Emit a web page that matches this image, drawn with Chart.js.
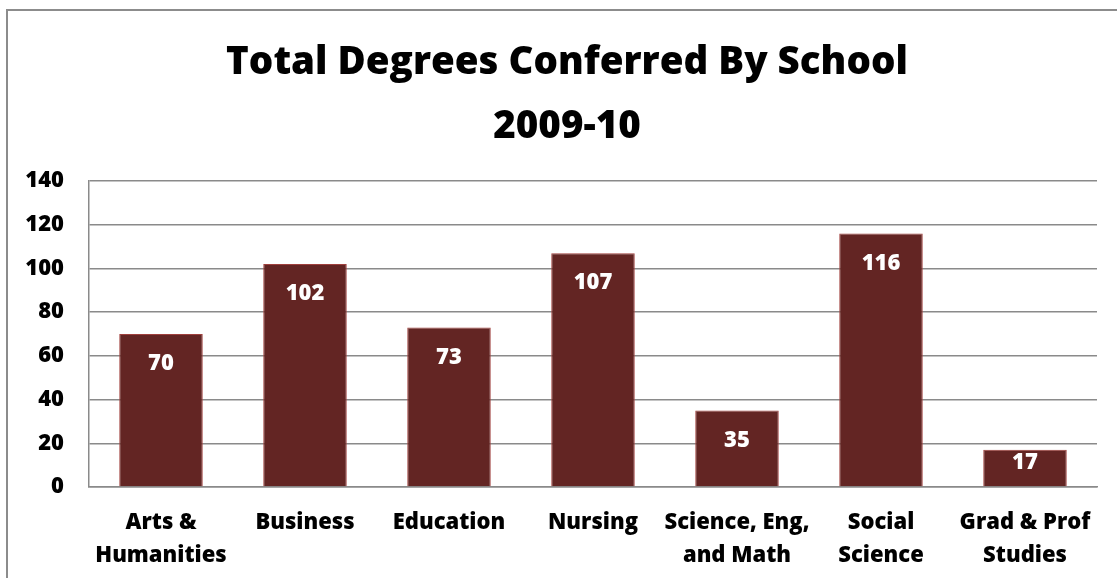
<!DOCTYPE html>
<html>
<head>
<meta charset="utf-8">
<script src="https://cdn.jsdelivr.net/npm/chart.js@4.4.0/dist/chart.umd.min.js"></script>
<style>
  html, body { margin: 0; padding: 0; background: #fff; overflow: hidden; }
  #frame { position: absolute; left: 6px; top: 9px; width: 1200px; height: 700px; border: 2px solid #8c8c8c; box-sizing: border-box; }
  #wrap { position: absolute; left: 0; top: 0; width: 1117px; height: 578px; }
</style>
</head>
<body>
<div id="frame"></div>
<div id="wrap"><canvas id="c" width="1117" height="578"></canvas></div>
<script>
const titleLines = ['Total Degrees Conferred By School', '2009-10'];
const categories = [['Arts &', 'Humanities'], ['Business'], ['Education'], ['Nursing'], ['Science, Eng,', 'and Math'], ['Social', 'Science'], ['Grad & Prof', 'Studies']];
const degrees = [70, 102, 73, 107, 35, 116, 17];
const yTicks = [0, 20, 40, 60, 80, 100, 120, 140];

const FONT = '"Open Sans", Lato, sans-serif';
const WEIGHT = 800;

const titleDraw = {
  id: 'titleDraw',
  afterDraw(chart) {
    const ctx = chart.ctx;
    ctx.save();
    ctx.fillStyle = '#000';
    ctx.font = WEIGHT + ' 38.5px ' + FONT;
    ctx.textAlign = 'center';
    ctx.textBaseline = 'middle';
    ctx.fillText(titleLines[0], 567, 63);
    ctx.fillText(titleLines[1], 567, 127);
    ctx.restore();
  }
};

const barLabels = {
  id: 'barLabels',
  afterDatasetsDraw(chart) {
    const ctx = chart.ctx;
    const meta = chart.getDatasetMeta(0);
    const yScale = chart.scales.y;
    ctx.save();
    ctx.fillStyle = '#ffffff';
    ctx.font = WEIGHT + ' 22px ' + FONT;
    ctx.textAlign = 'center';
    ctx.textBaseline = 'middle';
    meta.data.forEach((bar, i) => {
      const top = bar.y;
      const h = yScale.getPixelForValue(0) - top;
      const off = Math.min(30, h - 24);
      ctx.fillText(String(degrees[i]), bar.x, top + off);
    });
    ctx.restore();
  }
};

new Chart(document.getElementById('c'), {
  type: 'bar',
  data: {
    labels: categories,
    datasets: [{
      data: degrees,
      backgroundColor: '#632523',
      borderColor: '#a0403d',
      borderWidth: 1,
      categoryPercentage: 1,
      barPercentage: 0.58
    }]
  },
  options: {
    responsive: false,
    animation: false,
    events: [],
    layout: { padding: { left: 0, right: 20, top: 181, bottom: 0 } },
    plugins: {
      legend: { display: false },
      tooltip: { enabled: false },
      title: { display: false }
    },
    scales: {
      x: {
        grid: { display: false, drawTicks: false },
        border: { display: true, color: '#8a8a8a', width: 1.5 },
        ticks: { color: '#000', font: { family: FONT, size: 22, weight: WEIGHT, lineHeight: 1.47 }, padding: 20, maxRotation: 0, autoSkip: false },
        afterFit(s) { s.height = 91; }
      },
      y: {
        min: 0, max: 140,
        afterBuildTicks(s) { s.ticks = yTicks.map(v => ({ value: v })); },
        grid: { color: '#8a8a8a', lineWidth: 1.5, drawTicks: false },
        border: { display: true, color: '#8a8a8a', width: 1.5 },
        ticks: { color: '#000', font: { family: FONT, size: 22, weight: WEIGHT }, padding: 25 },
        afterFit(s) { s.width = 89; }
      }
    }
  },
  plugins: [barLabels, titleDraw]
});
</script>
</body>
</html>
